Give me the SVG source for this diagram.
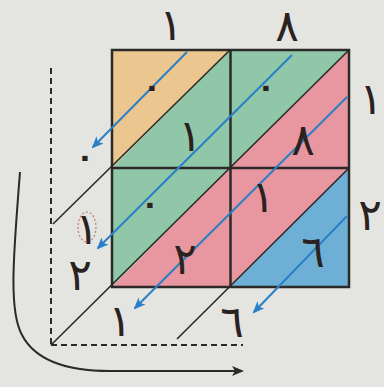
<svg xmlns="http://www.w3.org/2000/svg" width="384" height="387" viewBox="0 0 384 387">
<defs>
<style>
.grid{fill:none;stroke:#2b2a28;stroke-width:2.5}
.thin{fill:none;stroke:#2b2a28;stroke-width:1.6}
.dash{fill:none;stroke:#2b2a28;stroke-width:2;stroke-dasharray:6 4}
.blue{fill:none;stroke:#2a80c8;stroke-width:2;marker-end:url(#ab)}
.d{font-family:"DejaVu Sans",sans-serif;font-weight:normal;font-size:44px;fill:#2a2220;text-anchor:middle;dominant-baseline:central}
.s{font-size:30px;font-weight:bold}
</style>
<marker id="ab" viewBox="0 0 12 10" refX="10" refY="5" markerWidth="12" markerHeight="10" markerUnits="userSpaceOnUse" orient="auto">
<path d="M0,0 L12,5 L0,10 L3,5 Z" fill="#2a80c8"/>
</marker>
<marker id="ak" viewBox="0 0 12 10" refX="10" refY="5" markerWidth="13" markerHeight="10" markerUnits="userSpaceOnUse" orient="auto">
<path d="M0,0 L12,5 L0,10 L3,5 Z" fill="#2b2a28"/>
</marker>
</defs>
<rect width="384" height="387" fill="#e4e4e1"/>
<g id="cells">
<polygon points="112,50 230,50 112,168" fill="#ebc68e"/>
<polygon points="230,50 230,168 112,168" fill="#8fc7a8"/>
<polygon points="230,50 349,50 230,168" fill="#8fc7a8"/>
<polygon points="349,50 349,168 230,168" fill="#e8969f"/>
<polygon points="112,168 230,168 112,287" fill="#8fc7a8"/>
<polygon points="230,168 230,287 112,287" fill="#e8969f"/>
<polygon points="230,168 349,168 230,287" fill="#e8969f"/>
<polygon points="349,168 349,287 230,287" fill="#6eafd6"/>
</g>
<g id="connectors">
<line class="dash" x1="51" y1="68" x2="51" y2="345"/>
<line class="dash" x1="51" y1="345" x2="243" y2="345"/>
<line class="thin" x1="230" y1="50" x2="53" y2="224"/>
<line class="thin" x1="349" y1="50" x2="51" y2="345"/>
<line class="thin" x1="349" y1="168" x2="177" y2="339"/>
<rect class="grid" x="112" y="50" width="237" height="237"/>
<line class="grid" x1="230.5" y1="50" x2="230.5" y2="287"/>
<line class="grid" x1="112" y1="168" x2="349" y2="168"/>
<line class="blue" x1="187" y1="52" x2="93" y2="147"/>
<line class="blue" x1="292" y1="55" x2="98" y2="248"/>
<line class="blue" x1="347" y1="97" x2="135" y2="308"/>
<line class="blue" x1="347" y1="216" x2="254" y2="312"/>
<path d="M20,172 C14,250 8,310 22,335 C36,362 70,371 110,371 L242,371" fill="none" stroke="#2b2a28" stroke-width="2" marker-end="url(#ak)"/>
<ellipse cx="87" cy="227" rx="9" ry="15" fill="none" stroke="#c27a72" stroke-width="1.2" stroke-dasharray="2 2"/>
</g>
<g id="labels">
<text class="d" x="171" y="24">١</text>
<text class="d" x="287" y="25">٨</text>
<text class="d" x="371" y="98">١</text>
<text class="d" x="370" y="214">٢</text>
<text class="d" x="190" y="135">١</text>
<text class="d" x="303" y="139">٨</text>
<text class="d" x="185" y="258">٢</text>
<text class="d" x="263" y="196">١</text>
<text class="d" x="313" y="251">٦</text>
<text class="d" x="87" y="228">١</text>
<text class="d" x="80" y="274">٢</text>
<text class="d" x="120" y="320">١</text>
<text class="d" x="232" y="321">٦</text>
<text class="d s" x="152" y="86">٠</text>
<text class="d s" x="266" y="86">٠</text>
<text class="d s" x="150" y="203">٠</text>
<text class="d s" x="85" y="156">٠</text>
</g>
</svg>
